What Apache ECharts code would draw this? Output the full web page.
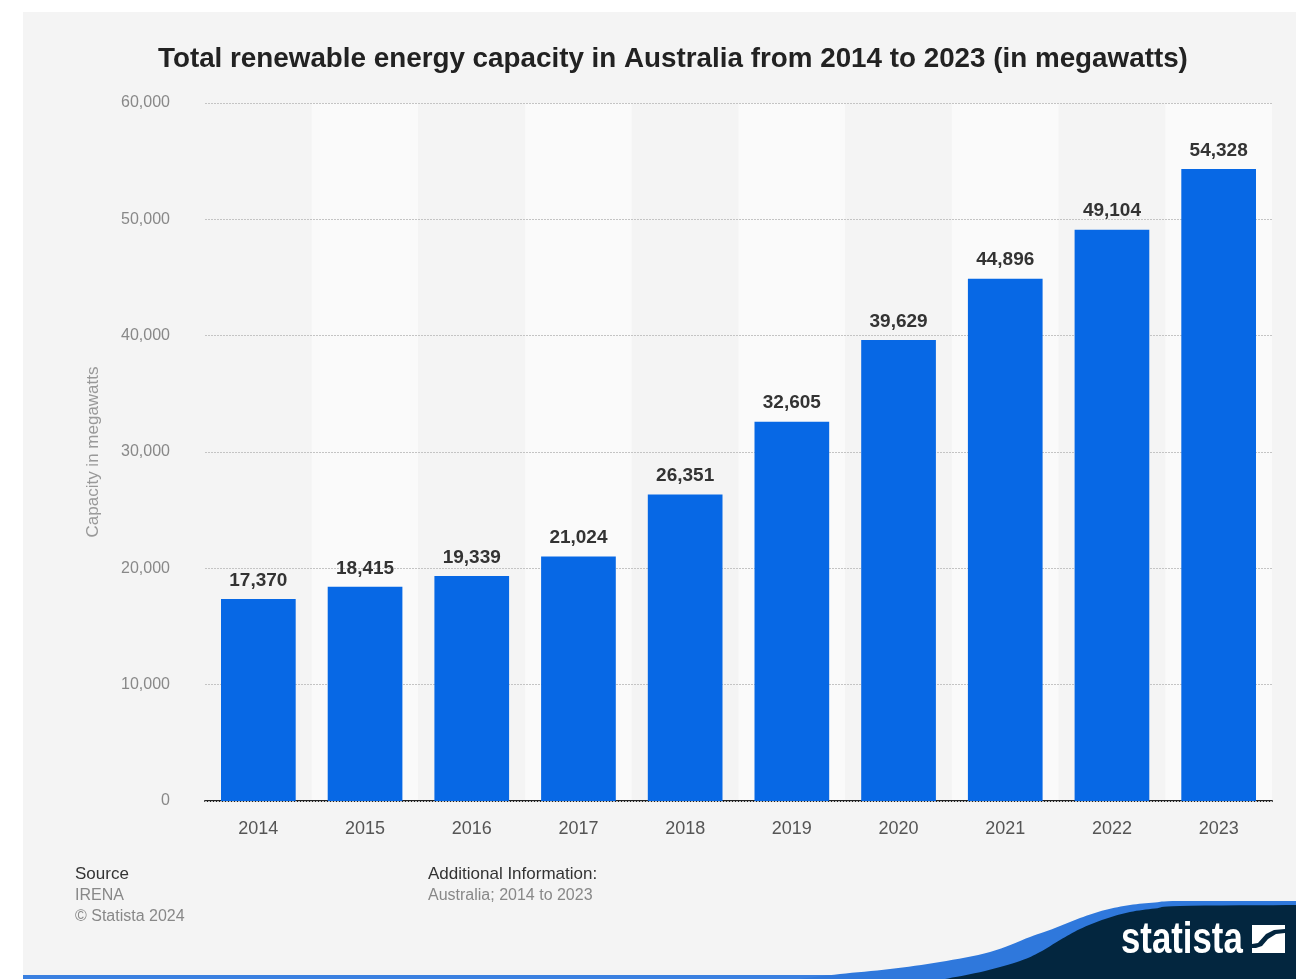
<!DOCTYPE html>
<html><head><meta charset="utf-8">
<script src="https://cdn.jsdelivr.net/npm/echarts@6/dist/echarts.min.js"></script>
<style>html,body{margin:0;padding:0;background:#fff}#c{width:1296px;height:979px}</style>
</head><body><div id="c"></div>
<script>
const categories = ['2014','2015','2016','2017','2018','2019','2020','2021','2022','2023'];
const capacity = [17370, 18415, 19339, 21024, 26351, 32605, 39629, 44896, 49104, 54328];
const yTicks = [0, 10000, 20000, 30000, 40000, 50000, 60000];

const fmt = v => v.toLocaleString('en-US');

// decorative logo wave outlines (top edge points)
const blueEdge = [[800,979],[840,974],[890,969],[940,962],[990,952],[1030,937],[1055,928],[1080,918],[1105,910],[1130,905],[1155,902.5],[1180,901],[1296,901]];
const navyEdge = [[945,979],[985,971],[1020,961],[1040,952],[1060,940],[1080,929],[1105,919],[1130,912],[1155,908.5],[1180,906],[1296,905]];

// Catmull-Rom smoothing of a decorative outline, closed at bottom right
function smoothShape(edge) {
  const out = [];
  for (let i = 0; i < edge.length - 1; i++) {
    const p0 = edge[Math.max(0, i - 1)], p1 = edge[i], p2 = edge[i + 1], p3 = edge[Math.min(edge.length - 1, i + 2)];
    for (let s = 0; s < 8; s++) {
      const t = s / 8, t2 = t * t, t3 = t2 * t;
      out.push([0, 1].map(k => 0.5 * ((2 * p1[k]) + (-p0[k] + p2[k]) * t +
        (2 * p0[k] - 5 * p1[k] + 4 * p2[k] - p3[k]) * t2 + (-p0[k] + 3 * p1[k] - 3 * p2[k] + p3[k]) * t3)));
    }
  }
  out.push(edge[edge.length - 1]);
  out.push([1296, 979]);
  return out;
}

const chart = echarts.init(document.getElementById('c'));
chart.setOption({
  backgroundColor: '#ffffff',
  animation: false,
  title: {
    text: 'Total renewable energy capacity in Australia from 2014 to 2023 (in megawatts)',
    left: 153, top: 40,
    textStyle: { fontFamily: 'Liberation Sans', fontWeight: 'bold', fontSize: 27.8, color: '#222' }
  },
  grid: { left: 205, right: 24, top: 103, bottom: 178 },
  xAxis: {
    type: 'category', data: categories, z: 0,
    axisLine: { lineStyle: { color: '#222', width: 2 } },
    axisTick: { show: false },
    axisLabel: { fontFamily: 'Liberation Sans', fontSize: 18, color: '#555', margin: 19 },
    splitArea: { show: true, areaStyle: { color: ['#f4f4f4', '#fafafa'] } }
  },
  yAxis: {
    type: 'value', min: yTicks[0], max: yTicks[yTicks.length-1], interval: 10000, z: 1,
    name: 'Capacity in megawatts', nameLocation: 'middle', nameGap: 103, nameRotate: 90,
    nameTextStyle: { fontFamily: 'Liberation Sans', fontSize: 17, color: '#999' },
    axisLine: { show: false }, axisTick: { show: false },
    axisLabel: { fontFamily: 'Liberation Sans', fontSize: 16, color: '#888', margin: 35, formatter: v => fmt(v) },
    splitLine: { lineStyle: { color: '#c4c4c4', type: [2, 1], width: 1 } }
  },
  series: [{
    type: 'bar', data: capacity, barWidth: '70%', z: 3,
    itemStyle: { color: '#0768e5' },
    label: { show: true, position: 'top', distance: 9, formatter: p => fmt(p.value),
      fontFamily: 'Liberation Sans', fontWeight: 'bold', fontSize: 19, color: '#333' }
  }],
  graphic: [
    { type: 'rect', z: -100, shape: { x: 23, y: 12, width: 1273, height: 964 }, style: { fill: '#f4f4f4' } },
    { type: 'text', x: 75, y: 866, style: { text: 'Source', fontFamily: 'Liberation Sans', fontSize: 17, fill: '#333' } },
    { type: 'text', x: 75, y: 888, style: { text: 'IRENA', fontFamily: 'Liberation Sans', fontSize: 16, fill: '#888' } },
    { type: 'text', x: 75, y: 909, style: { text: '© Statista 2024', fontFamily: 'Liberation Sans', fontSize: 16, fill: '#888' } },
    { type: 'text', x: 428, y: 866, style: { text: 'Additional Information:', fontFamily: 'Liberation Sans', fontSize: 17, fill: '#333' } },
    { type: 'text', x: 428, y: 888, style: { text: 'Australia; 2014 to 2023', fontFamily: 'Liberation Sans', fontSize: 16, fill: '#888' } },
    { type: 'rect', shape: { x: 23, y: 975, width: 1273, height: 4 }, style: { fill: '#3a80e0' } },
    { type: 'polygon', shape: { points: smoothShape(blueEdge) }, style: { fill: '#2f78dc' } },
    { type: 'polygon', shape: { points: smoothShape(navyEdge) }, style: { fill: '#03263f' } },
    { type: 'text', x: 1121, y: 919, scaleX: 0.79, originX: 0, originY: 0, style: { text: 'statista', fontFamily: 'Liberation Sans', fontWeight: 'bold', fontSize: 44, fill: '#fff' } },
    { type: 'rect', shape: { x: 1252, y: 925, width: 33, height: 28 }, style: { fill: '#fff' } },
    { type: 'polygon', shape: { points: [[1252,944],[1258,943],[1266,934],[1274,930],[1285,929],[1285,933],[1276,934],[1268,939],[1262,946],[1256,948],[1252,948]] }, style: { fill: '#03263f' } }
  ]
});
</script></body></html>
